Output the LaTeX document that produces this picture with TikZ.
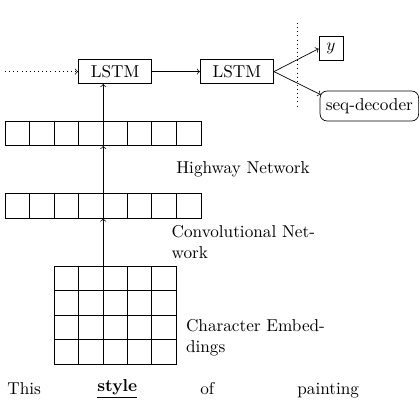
\documentclass[tikz,border=0pt]{standalone}
\usetikzlibrary{calc}
\begin{document}
\begin{tikzpicture}[x=0.5814pt,y=-0.5814pt,
  box/.style={draw, minimum width=1.5cm, minimum height=13.4pt, inner sep=3.33pt},
  lbl/.style={inner sep=0pt, anchor=base west, align=left},
  word/.style={inner sep=0pt, anchor=base west},
  cellrow/.style={draw, minimum width=4cm, minimum height=0.5cm, inner sep=0pt, anchor=north west},
  gridbox/.style={draw, minimum width=2.5cm, minimum height=2cm, inner sep=0pt, anchor=north west},
  ar/.style={->},
  dotar/.style={dotted,->},
]
\useasboundingbox (0,0) rectangle (420,420);
\def\cs{24.47}
% cell rows
\node[cellrow] (hw) at (5,120.7) {};
\node[cellrow] (cn) at (5,193.3) {};
\node[gridbox] (emb) at (53.94,266) {};
\foreach \k in {1,...,7} {
  \draw ($(hw.north west)+(\k*\cs,0)$) -- ($(hw.south west)+(\k*\cs,0)$);
  \draw ($(cn.north west)+(\k*\cs,0)$) -- ($(cn.south west)+(\k*\cs,0)$);
}
\foreach \k in {1,...,4}
  \draw ($(emb.north west)+(\k*\cs,0)$) -- ($(emb.south west)+(\k*\cs,0)$);
\foreach \j in {1,...,3}
  \draw ($(emb.north west)+(0,\j*\cs)$) -- ($(emb.north east)+(0,\j*\cs)$);
% LSTMs and outputs
\node[box] (l1) at (115.1,71.6) {LSTM};
\node[box] (l2) at (236.9,71.6) {LSTM};
\node[draw, minimum size=13.95pt, inner sep=1pt] (yy) at (331,48.7) {$y$};
\node[draw, rounded corners, minimum height=17.4pt, inner sep=3.33pt] (seq) at (369.35,106) {seq-decoder};
\coordinate (dtop) at (297.7,23);
\coordinate (dbot) at (297.7,107);
\draw[dotted] (dtop) -- (dbot);
\coordinate (din) at (5,71.6);
\draw[dotar] (din) -- (l1.west);
\draw[ar] (l1) -- (l2);
\draw[ar] (l2.east) -- (yy.west);
\draw[ar] (l2.east) -- ([shift={(1,4)}]seq.north west);
% vertical arrows
\draw[ar] (emb.north -| hw.north) -- (cn.south);
\draw[ar] (cn.north) -- (hw.south);
\draw[ar] (hw.north) -- (l1.south -| hw.north);
% labels
\node[lbl] (hwl) at (176,173.3) {Highway Network};
\node[lbl] (cnl) at (171.3,258) {Convolutional Net-\\work};
\node[lbl] (cel) at (185.7,352.5) {Character Embed-\\dings};
% words
\node[word] (w1) at (7,394.7) {This};
\node[word] (w2) at (97,391.3) {\underline{\textbf{style}}};
\node[word] (w3) at (200,394.7) {of};
\node[word] (w4) at (297,394.7) {painting};
\end{tikzpicture}
\end{document}
